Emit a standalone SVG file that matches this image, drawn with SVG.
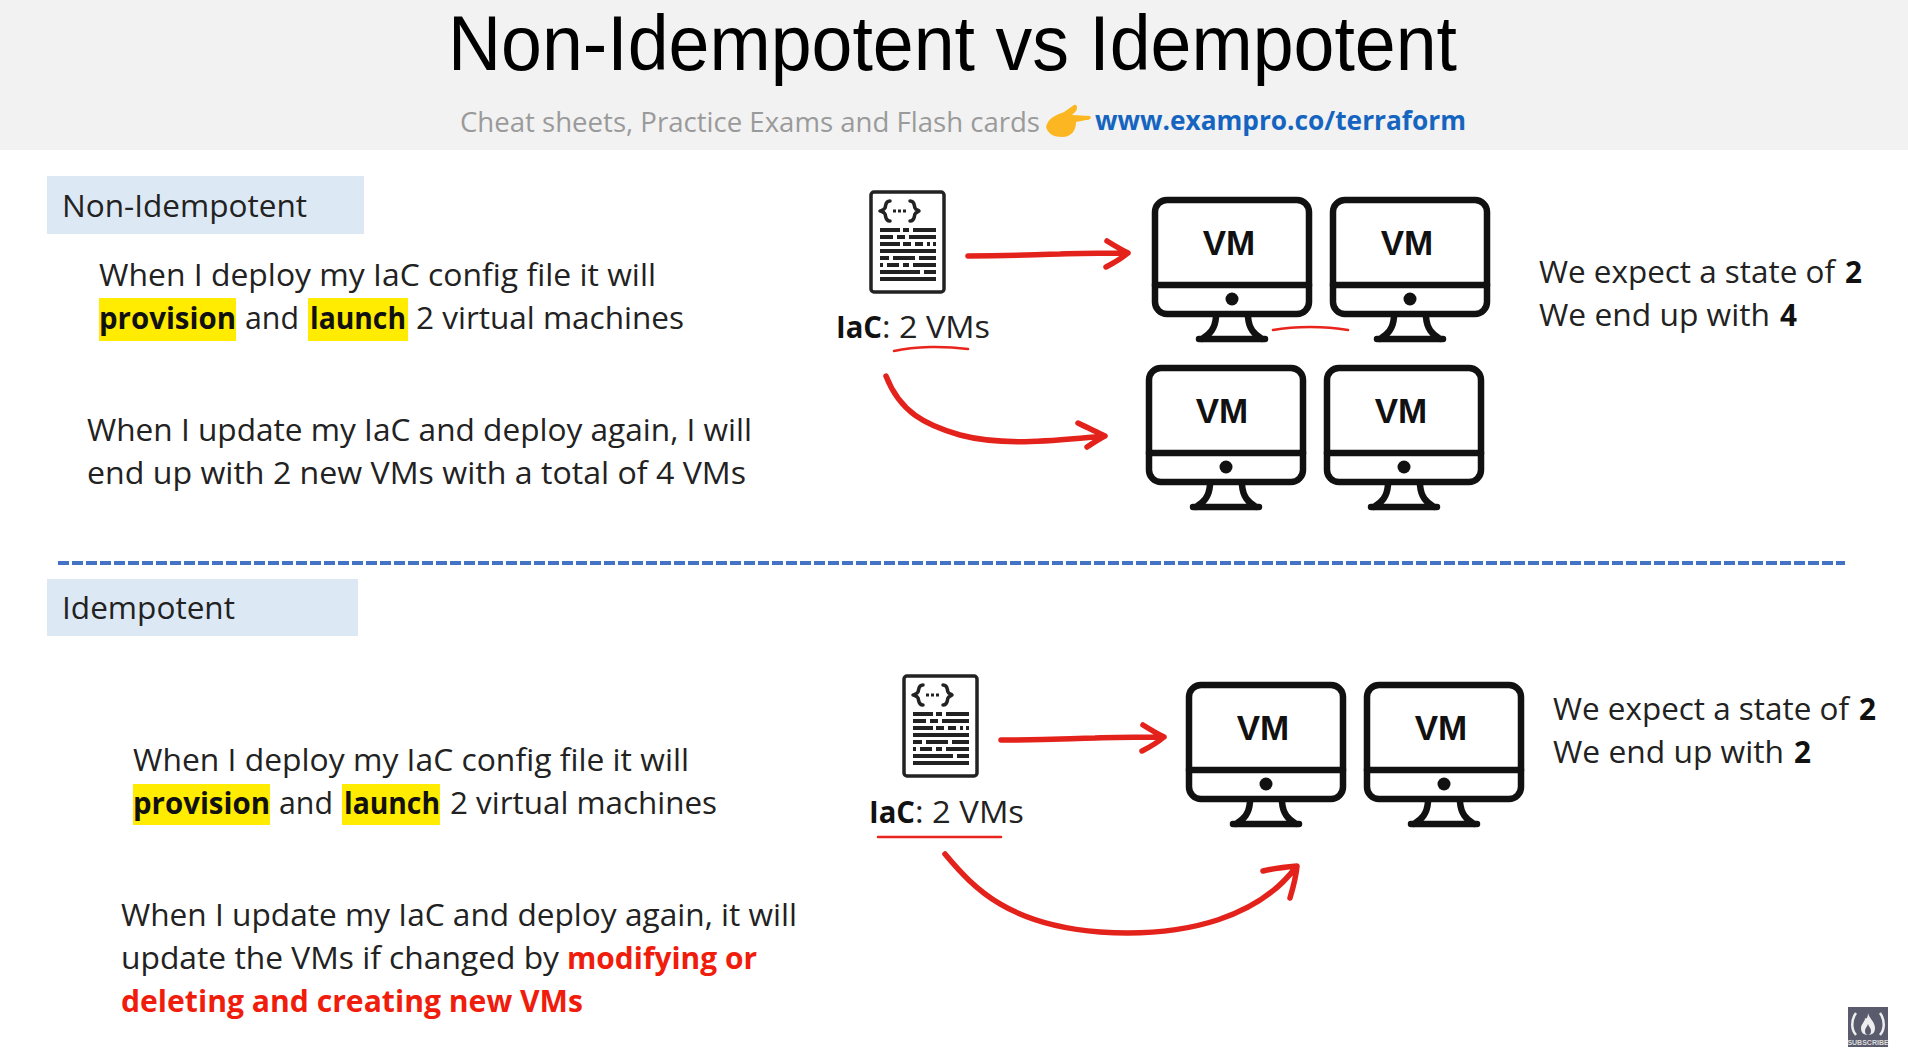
<svg xmlns="http://www.w3.org/2000/svg" width="1908" height="1062" viewBox="0 0 1908 1062">
<style>
text{font-family:"Open Sans","Liberation Sans",sans-serif;fill:#222}
.b{font-size:31px}
.bb{font-size:31px;font-weight:700;fill:#111}
.r{font-size:31px;font-weight:700;fill:#f01c0c}
.hl{fill:#ffec00}
.lab{fill:#dce9f5}
.vm{font-size:35px;font-weight:700;fill:#111;text-anchor:middle;font-family:"Liberation Sans",sans-serif}
.k{fill:none;stroke:#111;stroke-width:6.5;stroke-linejoin:round;stroke-linecap:round}
.d{fill:none;stroke:#222;stroke-width:3.5;stroke-linecap:round;stroke-linejoin:round}
.ra{fill:none;stroke:#e4221c;stroke-width:5.5;stroke-linecap:round;stroke-linejoin:round}
.rt{fill:none;stroke:#e8241c;stroke-width:2.5;stroke-linecap:round}
</style>
<defs>
<g id="monitor">
<rect class="k" x="3" y="3" width="154" height="114" rx="12"/>
<path class="k" d="M3 88H157"/>
<circle cx="80" cy="102" r="6.5" fill="#111"/>
<path class="k" d="M64 120C63 132 58 137 50 142M96 120C97 132 102 137 110 142M47 142H113"/>
</g>
<g id="doc">
<rect x="2" y="2" width="73" height="100" rx="3" fill="#fff" stroke="#222" stroke-width="3.5"/>
<path class="d" d="M21 11C16 11 17 16 16 18C15 20 13 20 11 21C13 22 15 22 16 24C17 26 16 31 21 31M41 11C46 11 45 16 46 18C47 20 49 20 50 21C49 22 47 22 46 24C45 26 46 31 41 31"/>
<path d="M24 21h3M29 21h3M34 21h3" stroke="#222" stroke-width="3" fill="none"/>
<path d="M11 40h20M34 40h6M44 40h23M11 47h13M28 47h8M40 47h27M11 54h20M34 54h8M46 54h8M58 54h3M64 54h3M11 61h56M11 68h9M24 68h22M50 68h17M11 75h3M18 75h12M34 75h6M44 75h23M11 82h40M55 82h12M11 89h56" stroke="#222" stroke-width="3.8" fill="none"/>
</g>
</defs>

<g id="header">
<rect width="1908" height="150" fill="#f2f2f2"/>
<text x="448" y="70" font-size="77" textLength="1009" lengthAdjust="spacingAndGlyphs" style="fill:#000;font-family:'Liberation Sans',sans-serif">Non-Idempotent vs Idempotent</text>
<text x="460" y="132" font-size="27" textLength="580" lengthAdjust="spacingAndGlyphs" style="fill:#9a9a9a">Cheat sheets, Practice Exams and Flash cards</text>
<path d="M1046 127C1048 118 1056 115 1064 112L1074 105C1077 104 1078 108 1076 111L1072 115L1090 116C1092 118 1090 120 1086 120L1076 122C1076 130 1072 137 1062 137C1054 137 1048 134 1046 127Z" fill="#fbb622"/>
<text x="1095" y="130" font-size="27" font-weight="700" textLength="371" lengthAdjust="spacingAndGlyphs" style="fill:#1565c0">www.exampro.co/terraform</text>
</g>

<g id="non-idempotent-label">
<rect class="lab" x="47" y="176" width="317" height="58"/>
<text x="62" y="217" font-size="31" textLength="245" lengthAdjust="spacingAndGlyphs">Non-Idempotent</text>
</g>
<g id="non-idempotent-text">
<rect class="hl" x="99" y="298" width="137" height="43"/>
<rect class="hl" x="308" y="298" width="100" height="43"/>
<text class="b" x="99" y="286" textLength="557" lengthAdjust="spacingAndGlyphs">When I deploy my IaC config file it will</text>
<text class="bb" x="99" y="329" textLength="137" lengthAdjust="spacingAndGlyphs">provision</text>
<text class="b" x="245" y="329" textLength="54" lengthAdjust="spacingAndGlyphs">and</text>
<text class="bb" x="310" y="329" textLength="96" lengthAdjust="spacingAndGlyphs">launch</text>
<text class="b" x="416" y="329" textLength="268" lengthAdjust="spacingAndGlyphs">2 virtual machines</text>
<text class="b" x="87" y="441" textLength="665" lengthAdjust="spacingAndGlyphs">When I update my IaC and deploy again, I will</text>
<text class="b" x="87" y="484" textLength="659" lengthAdjust="spacingAndGlyphs">end up with 2 new VMs with a total of 4 VMs</text>
</g>
<g id="non-idempotent-iac">
<use href="#doc" x="869" y="190"/>
<text class="bb" x="836" y="338" textLength="46" lengthAdjust="spacingAndGlyphs">IaC</text>
<text class="b" x="882" y="338" textLength="108" lengthAdjust="spacingAndGlyphs">: 2 VMs</text>
</g>
<g id="vm-1"><use href="#monitor" x="1152" y="197"/><text class="vm" x="1229" y="255">VM</text></g>
<g id="vm-2"><use href="#monitor" x="1330" y="197"/><text class="vm" x="1407" y="255">VM</text></g>
<g id="vm-3"><use href="#monitor" x="1146" y="365"/><text class="vm" x="1222" y="423">VM</text></g>
<g id="vm-4"><use href="#monitor" x="1324" y="365"/><text class="vm" x="1401" y="423">VM</text></g>
<g id="non-idempotent-state">
<text class="b" x="1539" y="283" textLength="296" lengthAdjust="spacingAndGlyphs">We expect a state of</text>
<text class="bb" x="1845" y="283" textLength="17" lengthAdjust="spacingAndGlyphs">2</text>
<text class="b" x="1539" y="326" textLength="231" lengthAdjust="spacingAndGlyphs">We end up with</text>
<text class="bb" x="1780" y="326" textLength="17" lengthAdjust="spacingAndGlyphs">4</text>
</g>

<line id="divider" x1="58" y1="563" x2="1845" y2="563" stroke="#4472c4" stroke-width="4" stroke-dasharray="11 3"/>

<g id="idempotent-label">
<rect class="lab" x="47" y="579" width="311" height="57"/>
<text x="62" y="619" font-size="31" textLength="173" lengthAdjust="spacingAndGlyphs">Idempotent</text>
</g>
<g id="idempotent-text">
<rect class="hl" x="133" y="784" width="137" height="41"/>
<rect class="hl" x="342" y="784" width="98" height="41"/>
<text class="b" x="133" y="771" textLength="556" lengthAdjust="spacingAndGlyphs">When I deploy my IaC config file it will</text>
<text class="bb" x="133" y="814" textLength="137" lengthAdjust="spacingAndGlyphs">provision</text>
<text class="b" x="279" y="814" textLength="54" lengthAdjust="spacingAndGlyphs">and</text>
<text class="bb" x="344" y="814" textLength="96" lengthAdjust="spacingAndGlyphs">launch</text>
<text class="b" x="450" y="814" textLength="267" lengthAdjust="spacingAndGlyphs">2 virtual machines</text>
<text class="b" x="121" y="926" textLength="676" lengthAdjust="spacingAndGlyphs">When I update my IaC and deploy again, it will</text>
<text class="b" x="121" y="969" textLength="438" lengthAdjust="spacingAndGlyphs">update the VMs if changed by</text>
<text class="r" x="567" y="969" textLength="190" lengthAdjust="spacingAndGlyphs">modifying or</text>
<text class="r" x="121" y="1012" textLength="462" lengthAdjust="spacingAndGlyphs">deleting and creating new VMs</text>
</g>
<g id="idempotent-iac">
<use href="#doc" x="902" y="674"/>
<text class="bb" x="869" y="823" textLength="46" lengthAdjust="spacingAndGlyphs">IaC</text>
<text class="b" x="915" y="823" textLength="109" lengthAdjust="spacingAndGlyphs">: 2 VMs</text>
</g>
<g id="vm-5"><use href="#monitor" x="1186" y="682"/><text class="vm" x="1263" y="740">VM</text></g>
<g id="vm-6"><use href="#monitor" x="1364" y="682"/><text class="vm" x="1441" y="740">VM</text></g>
<g id="idempotent-state">
<text class="b" x="1553" y="720" textLength="296" lengthAdjust="spacingAndGlyphs">We expect a state of</text>
<text class="bb" x="1859" y="720" textLength="17" lengthAdjust="spacingAndGlyphs">2</text>
<text class="b" x="1553" y="763" textLength="231" lengthAdjust="spacingAndGlyphs">We end up with</text>
<text class="bb" x="1794" y="763" textLength="17" lengthAdjust="spacingAndGlyphs">2</text>
</g>

<g id="connectors">
<path class="ra" d="M968 256C1020 256 1040 254 1060 254C1085 253 1105 253 1128 253M1107 241C1115 246 1122 250 1128 253C1122 258 1114 263 1106 267"/>
<path class="ra" d="M886 376C900 412 925 425 960 435C1005 447 1060 440 1105 436M1078 423C1088 428 1097 432 1105 436C1099 439 1093 443 1087 447"/>
<path class="ra" d="M1001 740C1055 740 1075 738 1095 738C1120 737 1140 737 1164 737M1143 725C1151 730 1158 734 1164 737C1158 742 1150 747 1142 751"/>
<path class="ra" d="M945 854C975 890 1010 925 1100 932C1190 938 1260 915 1296 867M1263 871C1275 868 1286 867 1297 866C1296 877 1293 888 1290 898"/>
<path class="rt" d="M894 351C915 346 945 346 968 349M1273 330C1295 326 1325 326 1348 330"/>
<path class="rt" d="M878 837H1001"/>
</g>

<g id="subscribe-badge">
<rect x="1848" y="1007" width="40" height="40" fill="#5b5b6e"/>
<path d="M1856 1013C1851 1020 1851 1029 1856 1035M1880 1013C1885 1020 1885 1029 1880 1035" fill="none" stroke="#eee" stroke-width="2.5"/>
<path d="M1868 1013C1869 1018 1875 1022 1875 1028C1875 1033 1872 1035 1868 1035C1864 1035 1861 1033 1861 1028C1861 1024 1865 1022 1865 1018C1867 1020 1868 1016 1868 1013Z" fill="#eee"/>
<path d="M1868 1024C1869 1027 1871 1028 1871 1031C1871 1033 1870 1035 1868 1035C1866 1035 1865 1033 1865 1031C1865 1028 1867 1027 1868 1024Z" fill="#5b5b6e"/>
<text x="1868" y="1045" font-size="7" text-anchor="middle" font-weight="700" style="fill:#ddd;font-family:'Liberation Sans',sans-serif">SUBSCRIBE</text>
</g>
</svg>
